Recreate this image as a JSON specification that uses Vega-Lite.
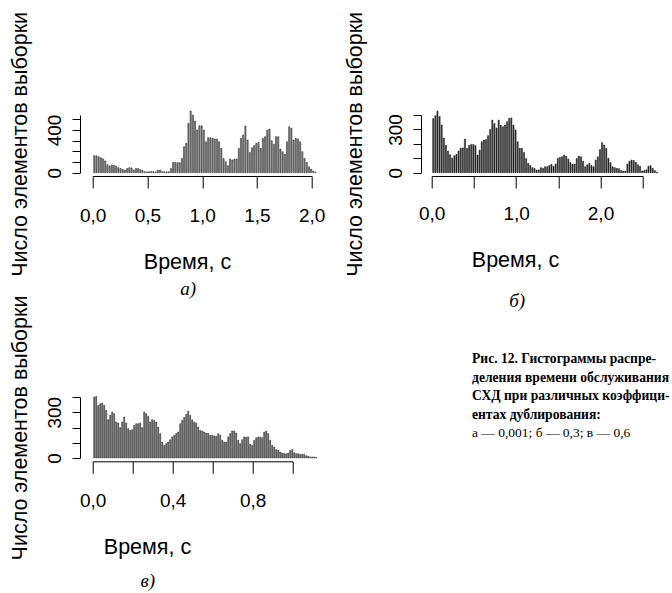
{
"$schema":"https://vega.github.io/schema/vega-lite/v6.json",
"autosize":{"type":"none"},
"padding":{"left":92.7,"top":115,"right":579.3,"bottom":478},
"background":"white",
"config":{"view":{"stroke":null},"axis":{"grid":false,"labelFlush":false,"domainColor":"black","tickColor":"black","labelColor":"black","titleColor":"black","labelFont":"Liberation Sans","titleFont":"Liberation Sans","labelFontSize":19,"titleFontSize":21.5,"titleFontWeight":"normal","domainWidth":1,"tickWidth":1}},
"datasets":{
"a":[{"t":0,"n":160},{"t":0.02,"n":158},{"t":0.04,"n":150},{"t":0.06,"n":140},{"t":0.08,"n":130},{"t":0.1,"n":110},{"t":0.12,"n":75},{"t":0.14,"n":62},{"t":0.16,"n":72},{"t":0.18,"n":70},{"t":0.2,"n":60},{"t":0.22,"n":47},{"t":0.24,"n":40},{"t":0.26,"n":30},{"t":0.28,"n":25},{"t":0.3,"n":40},{"t":0.32,"n":47},{"t":0.34,"n":45},{"t":0.36,"n":25},{"t":0.38,"n":40},{"t":0.4,"n":40},{"t":0.42,"n":30},{"t":0.44,"n":22},{"t":0.46,"n":10},{"t":0.48,"n":8},{"t":0.5,"n":10},{"t":0.52,"n":12},{"t":0.54,"n":10},{"t":0.56,"n":8},{"t":0.58,"n":22},{"t":0.6,"n":25},{"t":0.62,"n":12},{"t":0.64,"n":8},{"t":0.66,"n":8},{"t":0.68,"n":10},{"t":0.7,"n":40},{"t":0.72,"n":97},{"t":0.74,"n":97},{"t":0.76,"n":94},{"t":0.78,"n":94},{"t":0.8,"n":134},{"t":0.82,"n":244},{"t":0.84,"n":275},{"t":0.86,"n":462},{"t":0.88,"n":578},{"t":0.9,"n":540},{"t":0.92,"n":484},{"t":0.94,"n":400},{"t":0.96,"n":440},{"t":0.98,"n":440},{"t":1,"n":400},{"t":1.02,"n":290},{"t":1.04,"n":328},{"t":1.06,"n":328},{"t":1.08,"n":322},{"t":1.1,"n":315},{"t":1.12,"n":315},{"t":1.14,"n":290},{"t":1.16,"n":228},{"t":1.18,"n":134},{"t":1.2,"n":103},{"t":1.22,"n":66},{"t":1.24,"n":128},{"t":1.26,"n":119},{"t":1.28,"n":128},{"t":1.3,"n":128},{"t":1.32,"n":228},{"t":1.34,"n":322},{"t":1.36,"n":353},{"t":1.38,"n":437},{"t":1.4,"n":306},{"t":1.42,"n":190},{"t":1.44,"n":234},{"t":1.46,"n":253},{"t":1.48,"n":275},{"t":1.5,"n":284},{"t":1.52,"n":228},{"t":1.54,"n":322},{"t":1.56,"n":338},{"t":1.58,"n":400},{"t":1.6,"n":409},{"t":1.62,"n":300},{"t":1.64,"n":266},{"t":1.66,"n":338},{"t":1.68,"n":338},{"t":1.7,"n":222},{"t":1.72,"n":197},{"t":1.74,"n":172},{"t":1.76,"n":290},{"t":1.78,"n":431},{"t":1.8,"n":416},{"t":1.82,"n":306},{"t":1.84,"n":322},{"t":1.86,"n":316},{"t":1.88,"n":290},{"t":1.9,"n":197},{"t":1.92,"n":134},{"t":1.94,"n":97},{"t":1.96,"n":56},{"t":1.98,"n":34},{"t":2,"n":16},{"t":2.02,"n":5}],
"b":[{"t":0,"n":375},{"t":0.025,"n":395},{"t":0.05,"n":428},{"t":0.075,"n":390},{"t":0.1,"n":330},{"t":0.125,"n":240},{"t":0.15,"n":190},{"t":0.175,"n":150},{"t":0.2,"n":125},{"t":0.225,"n":100},{"t":0.25,"n":118},{"t":0.275,"n":127},{"t":0.3,"n":150},{"t":0.325,"n":169},{"t":0.35,"n":172},{"t":0.375,"n":233},{"t":0.4,"n":169},{"t":0.425,"n":190},{"t":0.45,"n":196},{"t":0.475,"n":196},{"t":0.5,"n":187},{"t":0.525,"n":122},{"t":0.55,"n":157},{"t":0.575,"n":215},{"t":0.6,"n":226},{"t":0.625,"n":230},{"t":0.65,"n":257},{"t":0.675,"n":300},{"t":0.7,"n":365},{"t":0.725,"n":340},{"t":0.75,"n":310},{"t":0.775,"n":365},{"t":0.8,"n":330},{"t":0.825,"n":319},{"t":0.85,"n":330},{"t":0.875,"n":354},{"t":0.9,"n":377},{"t":0.925,"n":380},{"t":0.95,"n":330},{"t":0.975,"n":296},{"t":1,"n":215},{"t":1.025,"n":169},{"t":1.05,"n":169},{"t":1.075,"n":140},{"t":1.1,"n":99},{"t":1.125,"n":65},{"t":1.15,"n":50},{"t":1.175,"n":35},{"t":1.2,"n":30},{"t":1.225,"n":18},{"t":1.25,"n":20},{"t":1.275,"n":35},{"t":1.3,"n":30},{"t":1.325,"n":42},{"t":1.35,"n":42},{"t":1.375,"n":50},{"t":1.4,"n":58},{"t":1.425,"n":45},{"t":1.45,"n":60},{"t":1.475,"n":99},{"t":1.5,"n":105},{"t":1.525,"n":111},{"t":1.55,"n":122},{"t":1.575,"n":115},{"t":1.6,"n":95},{"t":1.625,"n":70},{"t":1.65,"n":58},{"t":1.675,"n":60},{"t":1.7,"n":99},{"t":1.725,"n":115},{"t":1.75,"n":110},{"t":1.775,"n":80},{"t":1.8,"n":42},{"t":1.825,"n":55},{"t":1.85,"n":65},{"t":1.875,"n":50},{"t":1.9,"n":42},{"t":1.925,"n":88},{"t":1.95,"n":110},{"t":1.975,"n":160},{"t":2,"n":210},{"t":2.025,"n":192},{"t":2.05,"n":169},{"t":2.075,"n":100},{"t":2.1,"n":70},{"t":2.125,"n":42},{"t":2.15,"n":35},{"t":2.175,"n":30},{"t":2.2,"n":28},{"t":2.225,"n":15},{"t":2.25,"n":12},{"t":2.275,"n":12},{"t":2.3,"n":60},{"t":2.325,"n":80},{"t":2.35,"n":88},{"t":2.375,"n":85},{"t":2.4,"n":72},{"t":2.425,"n":55},{"t":2.45,"n":45},{"t":2.475,"n":12},{"t":2.5,"n":15},{"t":2.525,"n":20},{"t":2.55,"n":45},{"t":2.575,"n":49},{"t":2.6,"n":30},{"t":2.625,"n":15},{"t":2.65,"n":5}],
"c":[{"t":0,"n":400},{"t":0.01,"n":404},{"t":0.02,"n":345},{"t":0.03,"n":356},{"t":0.04,"n":360},{"t":0.05,"n":345},{"t":0.06,"n":313},{"t":0.07,"n":251},{"t":0.08,"n":280},{"t":0.09,"n":302},{"t":0.1,"n":291},{"t":0.11,"n":236},{"t":0.12,"n":230},{"t":0.13,"n":199},{"t":0.14,"n":236},{"t":0.15,"n":269},{"t":0.16,"n":230},{"t":0.17,"n":192},{"t":0.18,"n":181},{"t":0.19,"n":186},{"t":0.2,"n":214},{"t":0.21,"n":225},{"t":0.22,"n":225},{"t":0.23,"n":230},{"t":0.24,"n":199},{"t":0.25,"n":302},{"t":0.26,"n":291},{"t":0.27,"n":273},{"t":0.28,"n":236},{"t":0.29,"n":251},{"t":0.3,"n":247},{"t":0.31,"n":236},{"t":0.32,"n":203},{"t":0.33,"n":160},{"t":0.34,"n":105},{"t":0.35,"n":83},{"t":0.36,"n":94},{"t":0.37,"n":105},{"t":0.38,"n":120},{"t":0.39,"n":138},{"t":0.4,"n":149},{"t":0.41,"n":160},{"t":0.42,"n":170},{"t":0.43,"n":225},{"t":0.44,"n":247},{"t":0.45,"n":265},{"t":0.46,"n":286},{"t":0.47,"n":308},{"t":0.48,"n":280},{"t":0.49,"n":251},{"t":0.5,"n":236},{"t":0.51,"n":230},{"t":0.52,"n":203},{"t":0.53,"n":181},{"t":0.54,"n":177},{"t":0.55,"n":170},{"t":0.56,"n":164},{"t":0.57,"n":162},{"t":0.58,"n":149},{"t":0.59,"n":149},{"t":0.6,"n":145},{"t":0.61,"n":142},{"t":0.62,"n":160},{"t":0.63,"n":150},{"t":0.64,"n":116},{"t":0.65,"n":105},{"t":0.66,"n":105},{"t":0.67,"n":138},{"t":0.68,"n":160},{"t":0.69,"n":177},{"t":0.7,"n":177},{"t":0.71,"n":164},{"t":0.72,"n":116},{"t":0.73,"n":94},{"t":0.74,"n":120},{"t":0.75,"n":138},{"t":0.76,"n":138},{"t":0.77,"n":138},{"t":0.78,"n":90},{"t":0.79,"n":83},{"t":0.8,"n":116},{"t":0.81,"n":133},{"t":0.82,"n":138},{"t":0.83,"n":138},{"t":0.84,"n":133},{"t":0.85,"n":170},{"t":0.86,"n":177},{"t":0.87,"n":160},{"t":0.88,"n":116},{"t":0.89,"n":83},{"t":0.9,"n":72},{"t":0.91,"n":55},{"t":0.92,"n":50},{"t":0.93,"n":39},{"t":0.94,"n":33},{"t":0.95,"n":30},{"t":0.96,"n":28},{"t":0.97,"n":33},{"t":0.98,"n":50},{"t":0.99,"n":55},{"t":1,"n":35},{"t":1.01,"n":28},{"t":1.02,"n":28},{"t":1.03,"n":24},{"t":1.04,"n":24},{"t":1.05,"n":24},{"t":1.06,"n":15},{"t":1.07,"n":11},{"t":1.08,"n":7},{"t":1.09,"n":7},{"t":1.1,"n":7},{"t":1.11,"n":5}],
"capb":[{"i":1,"s":"Рис. 12. Гистограммы распре-"},{"i":2,"s":"деления времени обслуживания"},{"i":3,"s":"СХД при различных коэффици-"},{"i":4,"s":"ентах дублирования:"}],
"capr":[{"i":5,"s":"а — 0,001; б — 0,3; в — 0,6"}]
},
"bounds":"flush",
"spacing":339,
"hconcat":[
{"bounds":"flush","spacing":224,"vconcat":[
{"width":219,"height":57.7,"data":{"name":"a"},
"title":{"text":"а)","orient":"bottom","font":"Liberation Serif","fontStyle":"italic","fontWeight":"normal","fontSize":19,"offset":4,"dx":-14,"color":"black"},
"mark":{"type":"bar","fill":"#8c8c8c","stroke":"#1a1a1a","strokeWidth":0.5},
"encoding":{
"x":{"field":"t","type":"quantitative","bin":{"binned":true,"step":0.02},"scale":{"domain":[0,2],"nice":false,"zero":false},"axis":{"title":"Время, с","values":[0,0.5,1,1.5,2],"offset":3.3,"tickSize":12,"labelPadding":18,"titlePadding":26,"titleX":94.3,"labelExpr":"replace(format(datum.value,'.1f'),'.',',')"}},
"y":{"field":"n","type":"quantitative","scale":{"domain":[0,540.7],"nice":false},"axis":{"title":"Число элементов выборки","values":[0,100,200,300,400,500],"offset":12.7,"tickSize":8,"labelAngle":-90,"labelPadding":8,"titlePadding":14,"labelExpr":"datum.value==0||datum.value==400?datum.label:''"}}}},
{"width":200,"height":61,"data":{"name":"c"},
"title":{"text":"в)","orient":"bottom","font":"Liberation Serif","fontStyle":"italic","fontWeight":"normal","fontSize":19,"offset":12,"dx":-45,"color":"black"},
"mark":{"type":"bar","fill":"#777777","stroke":"#1a1a1a","strokeWidth":0.5},
"encoding":{
"x":{"field":"t","type":"quantitative","bin":{"binned":true,"step":0.01},"scale":{"domain":[0,1],"nice":false,"zero":false},"axis":{"title":"Время, с","values":[0,0.2,0.4,0.6,0.8,1],"offset":3.3,"tickSize":12,"labelPadding":18,"titlePadding":26,"titleX":54.3,"labelExpr":"round(datum.value*10)%4==0?replace(format(datum.value,'.1f'),'.',','):''"}},
"y":{"field":"n","type":"quantitative","scale":{"domain":[0,400],"nice":false},"axis":{"title":"Число элементов выборки","values":[0,100,200,300,400],"offset":12.7,"tickSize":8,"labelAngle":-90,"labelPadding":8,"titlePadding":14,"labelExpr":"datum.value==0||datum.value==300?datum.label:''"}}}}
]},
{"bounds":"flush","spacing":177,"vconcat":[
{"width":211,"height":57.7,"data":{"name":"b"},
"title":{"text":"б)","orient":"bottom","font":"Liberation Serif","fontStyle":"italic","fontWeight":"normal","fontSize":19,"offset":16,"dx":-20,"color":"black"},
"mark":{"type":"bar","fill":"#333333","stroke":"#111111","strokeWidth":0.5},
"encoding":{
"x":{"field":"t","type":"quantitative","bin":{"binned":true,"step":0.025},"scale":{"domain":[0,2.5],"nice":false,"zero":false},"axis":{"title":"Время, с","values":[0,0.5,1,1.5,2,2.5],"offset":3.3,"tickSize":12,"labelPadding":16,"titlePadding":26,"titleX":83.3,"labelExpr":"datum.value%1==0?replace(format(datum.value,'.1f'),'.',','):''"}},
"y":{"field":"n","type":"quantitative","scale":{"domain":[0,400],"nice":false},"axis":{"title":"Число элементов выборки","values":[0,100,200,300,400],"offset":10.7,"tickSize":8,"labelAngle":-90,"labelPadding":8,"titlePadding":20,"labelExpr":"datum.value==0||datum.value==300?datum.label:''"}}}},
{"width":80.6,"height":92.5,
"layer":[
{"data":{"name":"capb"},"mark":{"type":"text","align":"left","baseline":"middle","font":"Liberation Serif","fontWeight":"bold","fontSize":13.6,"color":"black"},
"encoding":{"y":{"field":"i","type":"ordinal","scale":{"type":"point","padding":0.5,"domain":[1,2,3,4,5]},"axis":null},"text":{"field":"s"}}},
{"data":{"name":"capr"},"mark":{"type":"text","align":"left","baseline":"middle","font":"Liberation Serif","fontWeight":"normal","fontSize":13.5,"color":"black"},
"encoding":{"y":{"field":"i","type":"ordinal","scale":{"type":"point","padding":0.5,"domain":[1,2,3,4,5]},"axis":null},"text":{"field":"s"}}}
]}
]}
]
}
